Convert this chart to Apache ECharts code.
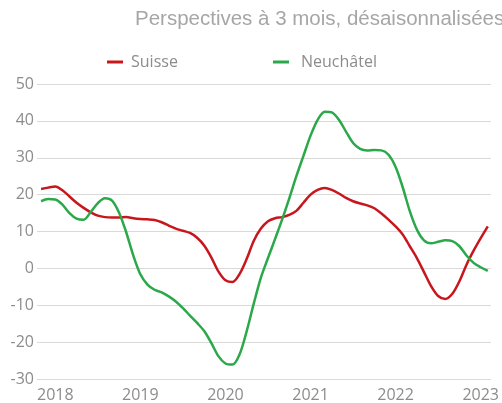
<!DOCTYPE html>
<html>
<head>
<meta charset="utf-8">
<script src="https://cdn.jsdelivr.net/npm/echarts@6/dist/echarts.min.js"></script>
<style>
  html, body { margin: 0; padding: 0; background: #fff; }
  #chart { width: 502px; height: 403px; }
</style>
</head>
<body>
<div id="chart"></div>
<script>
// mois (nov. 2017 - févr. 2023)
const months = [
  "2017-11", "2017-12",
  "2018-01", "2018-02", "2018-03", "2018-04", "2018-05", "2018-06", "2018-07", "2018-08", "2018-09", "2018-10", "2018-11", "2018-12",
  "2019-01", "2019-02", "2019-03", "2019-04", "2019-05", "2019-06", "2019-07", "2019-08", "2019-09", "2019-10", "2019-11", "2019-12",
  "2020-01", "2020-02", "2020-03", "2020-04", "2020-05", "2020-06", "2020-07", "2020-08", "2020-09", "2020-10", "2020-11", "2020-12",
  "2021-01", "2021-02", "2021-03", "2021-04", "2021-05", "2021-06", "2021-07", "2021-08", "2021-09", "2021-10", "2021-11", "2021-12",
  "2022-01", "2022-02", "2022-03", "2022-04", "2022-05", "2022-06", "2022-07", "2022-08", "2022-09", "2022-10", "2022-11", "2022-12",
  "2023-01", "2023-02"
];
const suisse = [
  21.5, 21.9,
  22.2, 21.2, 19.5, 17.8, 16.4, 15.2, 14.3, 13.9, 13.8, 13.8, 13.9, 13.6,
  13.4, 13.3, 13.1, 12.5, 11.6, 10.8, 10.2, 9.6, 8.3, 6.2, 3.0, -0.8,
  -3.2, -3.7, -1.5, 2.6, 7.5, 10.8, 12.8, 13.6, 13.9, 14.5, 15.6, 17.8,
  20.0, 21.3, 21.8, 21.3, 20.3, 19.1, 18.2, 17.6, 17.1, 16.3, 14.9, 13.2,
  11.4, 9.2, 6.0, 2.8, -1.0, -4.8, -7.5, -8.3, -6.9, -3.5, 1.0, 4.8,
  8.2, 11.4
];
const neuchatel = [
  18.2, 18.8,
  18.7, 17.3, 15.0, 13.5, 13.2, 15.3, 17.7, 19.0, 18.4, 15.1, 9.8, 3.5,
  -1.6, -4.4, -5.8, -6.5, -7.6, -9.0, -10.8, -12.8, -14.8, -17.0, -20.2, -23.8,
  -25.8, -26.1, -23.3, -17.0, -9.5, -2.5, 2.8, 8.0, 13.3, 19.0, 25.0, 30.5,
  36.0, 40.3, 42.5, 42.3, 40.3, 37.1, 34.0, 32.4, 32.0, 32.1, 32.0, 30.8,
  27.5, 22.0, 15.5, 10.5, 7.6, 6.8, 7.2, 7.6, 7.4, 6.0, 3.5, 1.5,
  0.3, -0.7
];
const yearLabels = [2018, 2019, 2020, 2021, 2022, 2023];

function toX(m) {
  const p = m.split("-");
  return Number(p[0]) + (Number(p[1]) - 1) / 12;
}
function pairs(values) {
  return values.map((v, i) => [toX(months[i]), v]);
}

const labelColor = "#8c8c8c";
const chart = echarts.init(document.getElementById("chart"));
chart.setOption({
  animation: false,
  title: {
    text: "Perspectives à 3 mois, désaisonnalisées",
    left: 130,
    top: 4,
    textStyle: {
      fontFamily: "Liberation Sans",
      fontSize: 20.5,
      fontWeight: "normal",
      color: "#a6a6a6",
    },
  },
  legend: [
    {
      data: ["Suisse"],
      left: 102,
      top: 49,
      icon: "rect",
      itemWidth: 16,
      itemHeight: 3,
      textStyle: { fontFamily: "Open Sans", fontSize: 16, color: labelColor, padding: [0, 0, 0, 3] },
    },
    {
      data: ["Neuchâtel"],
      left: 268,
      top: 49,
      icon: "rect",
      itemWidth: 16,
      itemHeight: 3,
      textStyle: { fontFamily: "Open Sans", fontSize: 16, color: labelColor, padding: [0, 0, 0, 7] },
    },
  ],
  grid: {
    left: 37,
    right: 11,
    top: 84,
    bottom: 23,
    containLabel: false,
  },
  xAxis: {
    type: "value",
    min: 2017.785,
    max: 2023.12,
    axisLine: { show: false },
    axisTick: { show: false },
    splitLine: { show: false },
    axisLabel: {
      customValues: yearLabels,
      formatter: (v) => String(Math.round(v)),
      fontFamily: "Open Sans",
      fontSize: 16,
      color: labelColor,
      margin: 8,
    },
  },
  yAxis: {
    type: "value",
    min: -30,
    max: 50,
    interval: 10,
    axisLine: { show: false },
    axisTick: { show: false },
    splitLine: { lineStyle: { color: "#d9d9d9", width: 1 } },
    axisLabel: {
      fontFamily: "Open Sans",
      fontSize: 16,
      color: labelColor,
      margin: 3,
    },
  },
  series: [
    {
      name: "Suisse",
      type: "line",
      data: pairs(suisse),
      smooth: 0.3,
      showSymbol: false,
      lineStyle: { color: "#c8161d", width: 2.5 },
      itemStyle: { color: "#c8161d" },
    },
    {
      name: "Neuchâtel",
      type: "line",
      data: pairs(neuchatel),
      smooth: 0.3,
      showSymbol: false,
      lineStyle: { color: "#2ba84a", width: 2.5 },
      itemStyle: { color: "#2ba84a" },
    },
  ],
});
</script>
</body>
</html>
